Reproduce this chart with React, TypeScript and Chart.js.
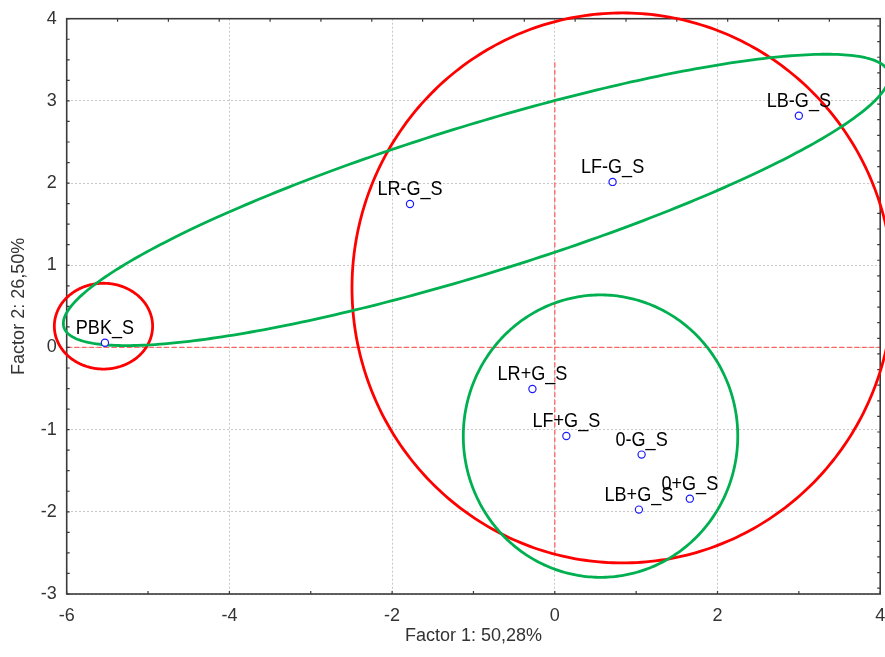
import React, { useEffect, useRef } from 'react';
import { Chart, registerables } from 'chart.js';

Chart.register(...registerables);

// ---- data ----
const sampleLabels = ['PBK_S', 'LR-G_S', 'LF-G_S', 'LB-G_S', 'LR+G_S', 'LF+G_S', '0-G_S', 'LB+G_S', '0+G_S'];
const factor1 = [-5.53, -1.78, 0.71, 3.0, -0.275, 0.142, 1.067, 1.034, 1.66];
const factor2 = [0.058, 1.746, 2.014, 2.82, -0.505, -1.077, -1.304, -1.973, -1.84];

const xMin = -6;
const xMax = 4;
const xStep = 2;
const yMin = -3;
const yMax = 4;
const yStep = 1;
const xAxisTitle = 'Factor 1: 50,28%';
const yAxisTitle = 'Factor 2: 26,50%';

// reference (dashed) lines
const refVerticalTop = 3.47;
const refVerticalBottom = -2.5;

// group ellipses (data units)
const ellipseCx = [0.832, -5.548, 0.562, -0.966];
const ellipseCy = [0.724, 0.259, -1.079, 1.795];
const ellipseRx = [3.325, 0.604, 1.687, 5.3];
const ellipseRy = [3.346, 0.522, 1.718, 0.9];
const ellipseAngleDeg = [0, 0, 0, 17.0];
const ellipseColor = ['#ff0000', '#ff0000', '#00b050', '#00b050'];

const FONT = '"Liberation Sans", Arial, sans-serif';

const overlayPlugin = {
  id: 'overlay',
  beforeDatasetsDraw(chart: any) {
    const { ctx, chartArea: a, scales } = chart;
    const x = scales.x;
    const y = scales.y;
    ctx.save();
    // dashed reference lines
    ctx.strokeStyle = '#ff6464';
    ctx.lineWidth = 1.3;
    ctx.setLineDash([5, 2.5]);
    ctx.beginPath();
    ctx.moveTo(x.getPixelForValue(xMin), y.getPixelForValue(0));
    ctx.lineTo(x.getPixelForValue(xMax), y.getPixelForValue(0));
    ctx.moveTo(x.getPixelForValue(0), y.getPixelForValue(refVerticalTop));
    ctx.lineTo(x.getPixelForValue(0), y.getPixelForValue(refVerticalBottom));
    ctx.stroke();
    ctx.setLineDash([]);

    // frame
    ctx.strokeStyle = '#3a3a3a';
    ctx.lineWidth = 1.6;
    ctx.strokeRect(a.left, a.top, a.right - a.left, a.bottom - a.top);

    // inward tick marks
    ctx.lineWidth = 1.2;
    ctx.beginPath();
    for (let v = yMin; v <= yMax + 1e-9; v += 0.25) {
      const py = y.getPixelForValue(v);
      ctx.moveTo(a.left, py);
      ctx.lineTo(a.left + 3, py);
    }
    for (let v = xMin; v <= xMax + 1e-9; v += 1) {
      const px = x.getPixelForValue(v);
      ctx.moveTo(px, a.bottom);
      ctx.lineTo(px, a.bottom - 3);
    }
    for (let v = xMin + 0.625; v < xMax - 1e-9; v += 0.625) {
      const px = x.getPixelForValue(v);
      ctx.moveTo(px, a.top);
      ctx.lineTo(px, a.top + 3);
    }
    for (let v = 3.911; v > yMin; v -= 0.19) {
      const py = y.getPixelForValue(v);
      ctx.moveTo(a.right, py);
      ctx.lineTo(a.right - 3, py);
    }
    ctx.stroke();

    // ellipses
    ctx.lineWidth = 2.8;
    for (let i = 0; i < ellipseCx.length; i++) {
      const phi = (ellipseAngleDeg[i] * Math.PI) / 180;
      ctx.strokeStyle = ellipseColor[i];
      ctx.beginPath();
      const n = 360;
      for (let k = 0; k <= n; k++) {
        const t = (k / n) * Math.PI * 2;
        const dx = ellipseRx[i] * Math.cos(t);
        const dy = ellipseRy[i] * Math.sin(t);
        const vx = ellipseCx[i] + dx * Math.cos(phi) - dy * Math.sin(phi);
        const vy = ellipseCy[i] + dx * Math.sin(phi) + dy * Math.cos(phi);
        const px = x.getPixelForValue(vx);
        const py = y.getPixelForValue(vy);
        if (k === 0) ctx.moveTo(px, py);
        else ctx.lineTo(px, py);
      }
      ctx.closePath();
      ctx.stroke();
    }
    ctx.restore();
  },
  afterDatasetsDraw(chart: any) {
    const { ctx, chartArea: a, scales } = chart;
    const x = scales.x;
    const y = scales.y;
    ctx.save();
    // point labels
    ctx.fillStyle = '#000';
    ctx.textAlign = 'center';
    ctx.textBaseline = 'alphabetic';
    ctx.font = `21px ${FONT}`;
    for (let i = 0; i < sampleLabels.length; i++) {
      const px = x.getPixelForValue(factor1[i]);
      const py = y.getPixelForValue(factor2[i]);
      ctx.save();
      ctx.translate(px, py - 8.5);
      ctx.scale(0.86, 1);
      ctx.fillText(sampleLabels[i], 0, 0);
      ctx.restore();
    }
    // axis titles
    ctx.fillStyle = '#333';
    ctx.font = `18px ${FONT}`;
    ctx.textBaseline = 'middle';
    ctx.fillText(xAxisTitle, (a.left + a.right) / 2, 636);
    ctx.translate(19, (a.top + a.bottom) / 2);
    ctx.rotate(-Math.PI / 2);
    ctx.fillText(yAxisTitle, 0, 0);
    ctx.restore();
  },
};

export default function App() {
  const canvasRef = useRef<HTMLCanvasElement | null>(null);

  useEffect(() => {
    document.body.style.margin = '0';
    const canvas = canvasRef.current;
    if (!canvas) return;
    const data = factor1.map((v, i) => ({ x: v, y: factor2[i] }));
    const chart = new Chart(canvas, {
      type: 'scatter',
      data: {
        datasets: [
          {
            data,
            pointRadius: 3.6,
            pointBorderWidth: 1.2,
            pointBorderColor: '#1a1aff',
            pointBackgroundColor: '#ffffff',
            pointHoverRadius: 3.6,
          },
        ],
      },
      options: {
        animation: false,
        responsive: false,
        maintainAspectRatio: false,
        events: [],
        layout: { padding: { top: 18.7, right: 3.3, left: 0, bottom: 0 } },
        plugins: { legend: { display: false }, tooltip: { enabled: false } },
        scales: {
          x: {
            type: 'linear',
            min: xMin,
            max: xMax,
            ticks: { stepSize: xStep, color: '#333', font: { family: FONT, size: 18 }, padding: 11 },
            grid: { color: '#c8c8c8', lineWidth: 1, drawTicks: false },
            border: { display: false, dash: [2, 2] },
            afterFit(s: any) {
              s.height = 63;
              s.paddingRight = 0;
              s.paddingLeft = 0;
            },
          },
          y: {
            type: 'linear',
            min: yMin,
            max: yMax,
            ticks: { stepSize: yStep, color: '#333', font: { family: FONT, size: 18 }, padding: 10 },
            grid: { color: '#c8c8c8', lineWidth: 1, drawTicks: false },
            border: { display: false, dash: [2, 2] },
            afterFit(s: any) {
              s.width = 66.7;
              s.paddingTop = 0;
              s.paddingBottom = 0;
            },
          },
        },
      },
      plugins: [overlayPlugin],
    } as any);
    return () => chart.destroy();
  }, []);

  return <canvas ref={canvasRef} width={885} height={657} style={{ display: 'block' }} />;
}
